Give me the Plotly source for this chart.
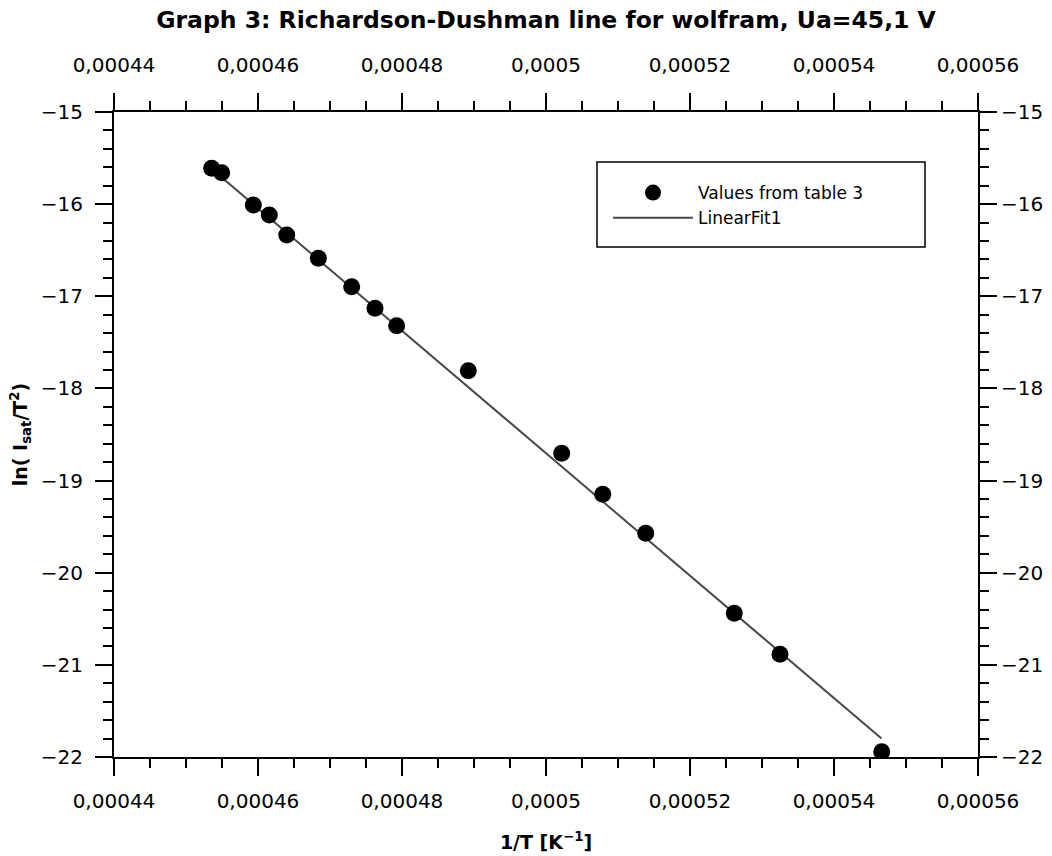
import plotly.graph_objects as go

# ---- data ----
inv_T = [0.00045357, 0.00045496, 0.00045935, 0.00046157, 0.00046399, 0.00046838,
         0.00047301, 0.00047625, 0.00047926, 0.00048921, 0.00050218, 0.00050788,
         0.00051385, 0.00052615, 0.00053250, 0.00054663]
ln_I_T2 = [-15.611, -15.659, -16.009, -16.118, -16.335, -16.588,
           -16.896, -17.130, -17.319, -17.808, -18.704, -19.149,
           -19.572, -20.441, -20.886, -21.943]
fit_x = [0.0004533, 0.0005466]
fit_y = [-15.60, -21.80]

x_ticks = [0.00044, 0.00046, 0.00048, 0.00050, 0.00052, 0.00054, 0.00056]
x_tick_labels = ["0,00044", "0,00046", "0,00048", "0,0005", "0,00052", "0,00054", "0,00056"]
y_ticks = [-15, -16, -17, -18, -19, -20, -21, -22]
y_tick_labels = ["\u221215", "\u221216", "\u221217", "\u221218", "\u221219", "\u221220", "\u221221", "\u221222"]

FONT = "DejaVu Sans"

fig = go.Figure()
fig.add_trace(go.Scatter(x=fit_x, y=fit_y, mode="lines", name="LinearFit1",
                         line=dict(color="#4a4a4a", width=2)))
fig.add_trace(go.Scatter(x=inv_T, y=ln_I_T2, mode="markers", name="Values from table 3",
                         marker=dict(color="black", size=17)))
fig.add_trace(go.Scatter(x=[None], y=[None], xaxis="x2", yaxis="y2",
                         showlegend=False, hoverinfo="skip"))

def axis_style(minor_dtick, minor_tick0, standoff):
    return dict(showline=True, linecolor="black", linewidth=2, automargin=False,
                ticks="outside", ticklen=17, tickwidth=2, tickcolor="black",
                showgrid=False, zeroline=False, ticklabelstandoff=standoff,
                tickfont=dict(family=FONT, size=20, color="black"),
                minor=dict(ticks="outside", ticklen=9, tickwidth=2, tickcolor="black",
                           dtick=minor_dtick, tick0=minor_tick0, showgrid=False))

xr = [x_ticks[0], x_ticks[-1]]
yr = [y_ticks[-1], y_ticks[0]]

fig.update_layout(
    width=1052, height=856,
    paper_bgcolor="white", plot_bgcolor="white",
    margin=dict(l=114, r=74, t=112, b=99),
    separators=",.",
    title=dict(text="<b>Graph 3: Richardson-Dushman line for wolfram, Ua=45,1 V</b>",
               font=dict(family=FONT, size=23.5, color="black"),
               x=0.5, xref="paper", xanchor="center", y=0.977, yanchor="middle"),
    xaxis=dict(**axis_style(0.000005, 0.00044, 8), range=xr, tickmode="array",
               tickvals=x_ticks, ticktext=x_tick_labels,
               title=dict(text="<b>1/T [K<sup>\u22121</sup>]</b>",
                          font=dict(family=FONT, size=19, color="black"), standoff=24)),
    xaxis2=dict(**axis_style(0.000005, 0.00044, 13), range=xr, tickmode="array",
                tickvals=x_ticks, ticktext=x_tick_labels,
                overlaying="x", side="top", anchor="y"),
    yaxis=dict(**axis_style(0.2, -15, 8), range=yr, tickmode="array",
               tickvals=y_ticks, ticktext=y_tick_labels,
               title=dict(text="<b>ln( I<sub>sat</sub>/T<sup>2</sup>)</b>",
                          font=dict(family=FONT, size=19, color="black"), standoff=8)),
    yaxis2=dict(**axis_style(0.2, -15, 0), range=yr, tickmode="array",
                tickvals=y_ticks, ticktext=y_tick_labels,
                overlaying="y", side="right", anchor="x"),
    legend=dict(x=(608 - 114) / 864, xanchor="left", y=(757 - 175) / 645, yanchor="top",
                bgcolor="rgba(0,0,0,0)", borderwidth=0, traceorder="reversed",
                font=dict(family=FONT, size=17, color="black"), itemwidth=80),
    shapes=[dict(type="rect", xref="paper", yref="paper",
                 x0=(597 - 114) / 864, x1=(925 - 114) / 864,
                 y0=(757 - 247) / 645, y1=(757 - 162) / 645,
                 line=dict(color="black", width=1.5), fillcolor="white", layer="below")],
    showlegend=True,
)

fig.write_html("out.html", config={"displayModeBar": False},
               post_script="document.body.style.margin='0';document.body.style.overflow='hidden';")
